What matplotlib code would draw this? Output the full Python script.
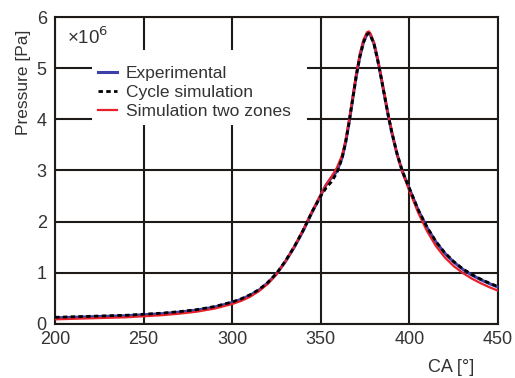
import matplotlib
matplotlib.use("Agg")
import matplotlib.pyplot as plt
from matplotlib.patches import Rectangle

# crank angle [deg] and cylinder pressure [x1e6 Pa]
ca = [200, 210, 220, 230, 240, 250, 260, 270, 280, 290, 300, 305, 310, 315, 320,
      325, 330, 335, 340, 345, 350, 353, 356, 359, 362, 364, 366, 368, 370, 372,
      374, 376, 377, 378, 380, 382, 384, 386, 388, 390, 393, 396, 400, 405, 410,
      415, 420, 425, 430, 435, 440, 445, 450]

p_exp = [0.12, 0.13, 0.14, 0.15, 0.16, 0.18, 0.20, 0.23, 0.27, 0.33, 0.42, 0.48, 0.56, 0.66, 0.80,
         0.98, 1.22, 1.50, 1.82, 2.18, 2.52, 2.72, 2.86, 2.98, 3.25, 3.55, 3.95, 4.40, 4.85, 5.22,
         5.50, 5.66, 5.68, 5.65, 5.48, 5.18, 4.82, 4.45, 4.08, 3.75, 3.32, 2.98, 2.64, 2.22, 1.88,
         1.60, 1.38, 1.21, 1.07, 0.96, 0.87, 0.79, 0.72]

p_cycle = [0.13, 0.14, 0.15, 0.16, 0.17, 0.19, 0.21, 0.24, 0.28, 0.34, 0.43, 0.49, 0.57, 0.67, 0.81,
           0.99, 1.23, 1.51, 1.83, 2.19, 2.50, 2.66, 2.78, 2.95, 3.24, 3.55, 3.95, 4.40, 4.85, 5.22,
           5.50, 5.66, 5.68, 5.64, 5.47, 5.17, 4.82, 4.45, 4.08, 3.76, 3.33, 2.99, 2.65, 2.23, 1.89,
           1.61, 1.39, 1.22, 1.08, 0.97, 0.88, 0.80, 0.73]

p_two_zone = [0.09, 0.10, 0.11, 0.12, 0.13, 0.15, 0.17, 0.20, 0.24, 0.30, 0.39, 0.45, 0.53, 0.64, 0.78,
              0.97, 1.22, 1.51, 1.84, 2.20, 2.53, 2.72, 2.88, 3.05, 3.30, 3.60, 4.00, 4.45, 4.90, 5.28,
              5.55, 5.70, 5.72, 5.68, 5.50, 5.20, 4.85, 4.48, 4.10, 3.77, 3.32, 2.97, 2.60, 2.17, 1.81,
              1.52, 1.30, 1.13, 1.00, 0.89, 0.80, 0.72, 0.65]

plt.rcParams['font.family'] = ['Liberation Sans', 'DejaVu Sans']
txt = '#333333'
grid_col = '#1e1a18'

fig = plt.figure(figsize=(5.15, 3.78), dpi=100)
ax = fig.add_axes([0.107, 0.143, 0.860, 0.812])

ax.plot(ca, p_exp, color='#3d3fa8', lw=2.2, label='Experimental', zorder=3)
ax.plot(ca, p_two_zone, color='#e8202a', lw=1.6, label='Simulation two zones', zorder=4)
ax.plot(ca, p_cycle, color='black', lw=2.0, ls=(0, (1.6, 1.2)), label='Cycle simulation', zorder=5)

ax.set_xlim(200, 450)
ax.set_ylim(0, 6)
ax.set_xticks([200, 250, 300, 350, 400, 450])
ax.set_yticks([0, 1, 2, 3, 4, 5, 6])
ax.grid(True, color=grid_col, lw=1.5, zorder=1)
ax.set_axisbelow(True)
for s in ax.spines.values():
    s.set_color(grid_col)
    s.set_linewidth(1.5)
ax.tick_params(length=0, labelsize=13, labelcolor=txt)
ax.tick_params(axis='x', pad=5)
ax.tick_params(axis='y', pad=6)

ax.set_ylabel('Pressure [Pa]', fontsize=12.5, color=txt)
ax.yaxis.set_label_coords(-0.055, 0.788)
ax.set_xlabel('CA [°]', fontsize=13, color=txt)
ax.xaxis.set_label_coords(0.894, -0.114)

ax.text(0.027, 0.935, '×10$^6$', transform=ax.transAxes, fontsize=13.5,
        color=txt, va='center', ha='left')

# white patch behind the legend hides the grid there
ax.add_patch(Rectangle((0.0835, 0.648), 0.4855, 0.2445, transform=ax.transAxes,
                       facecolor='white', edgecolor='none', zorder=2))

handles, labels = ax.get_legend_handles_labels()
order = [0, 2, 1]
leg = ax.legend([handles[i] for i in order], [labels[i] for i in order],
                loc='upper left', bbox_to_anchor=(0.097, 0.842), fontsize=12.5,
                frameon=False, handlelength=1.1, handletextpad=0.5,
                labelspacing=0.24, borderpad=0, borderaxespad=0)
leg.set_zorder(6)
for t in leg.get_texts():
    t.set_color(txt)

fig.savefig('out.png', dpi=100)
